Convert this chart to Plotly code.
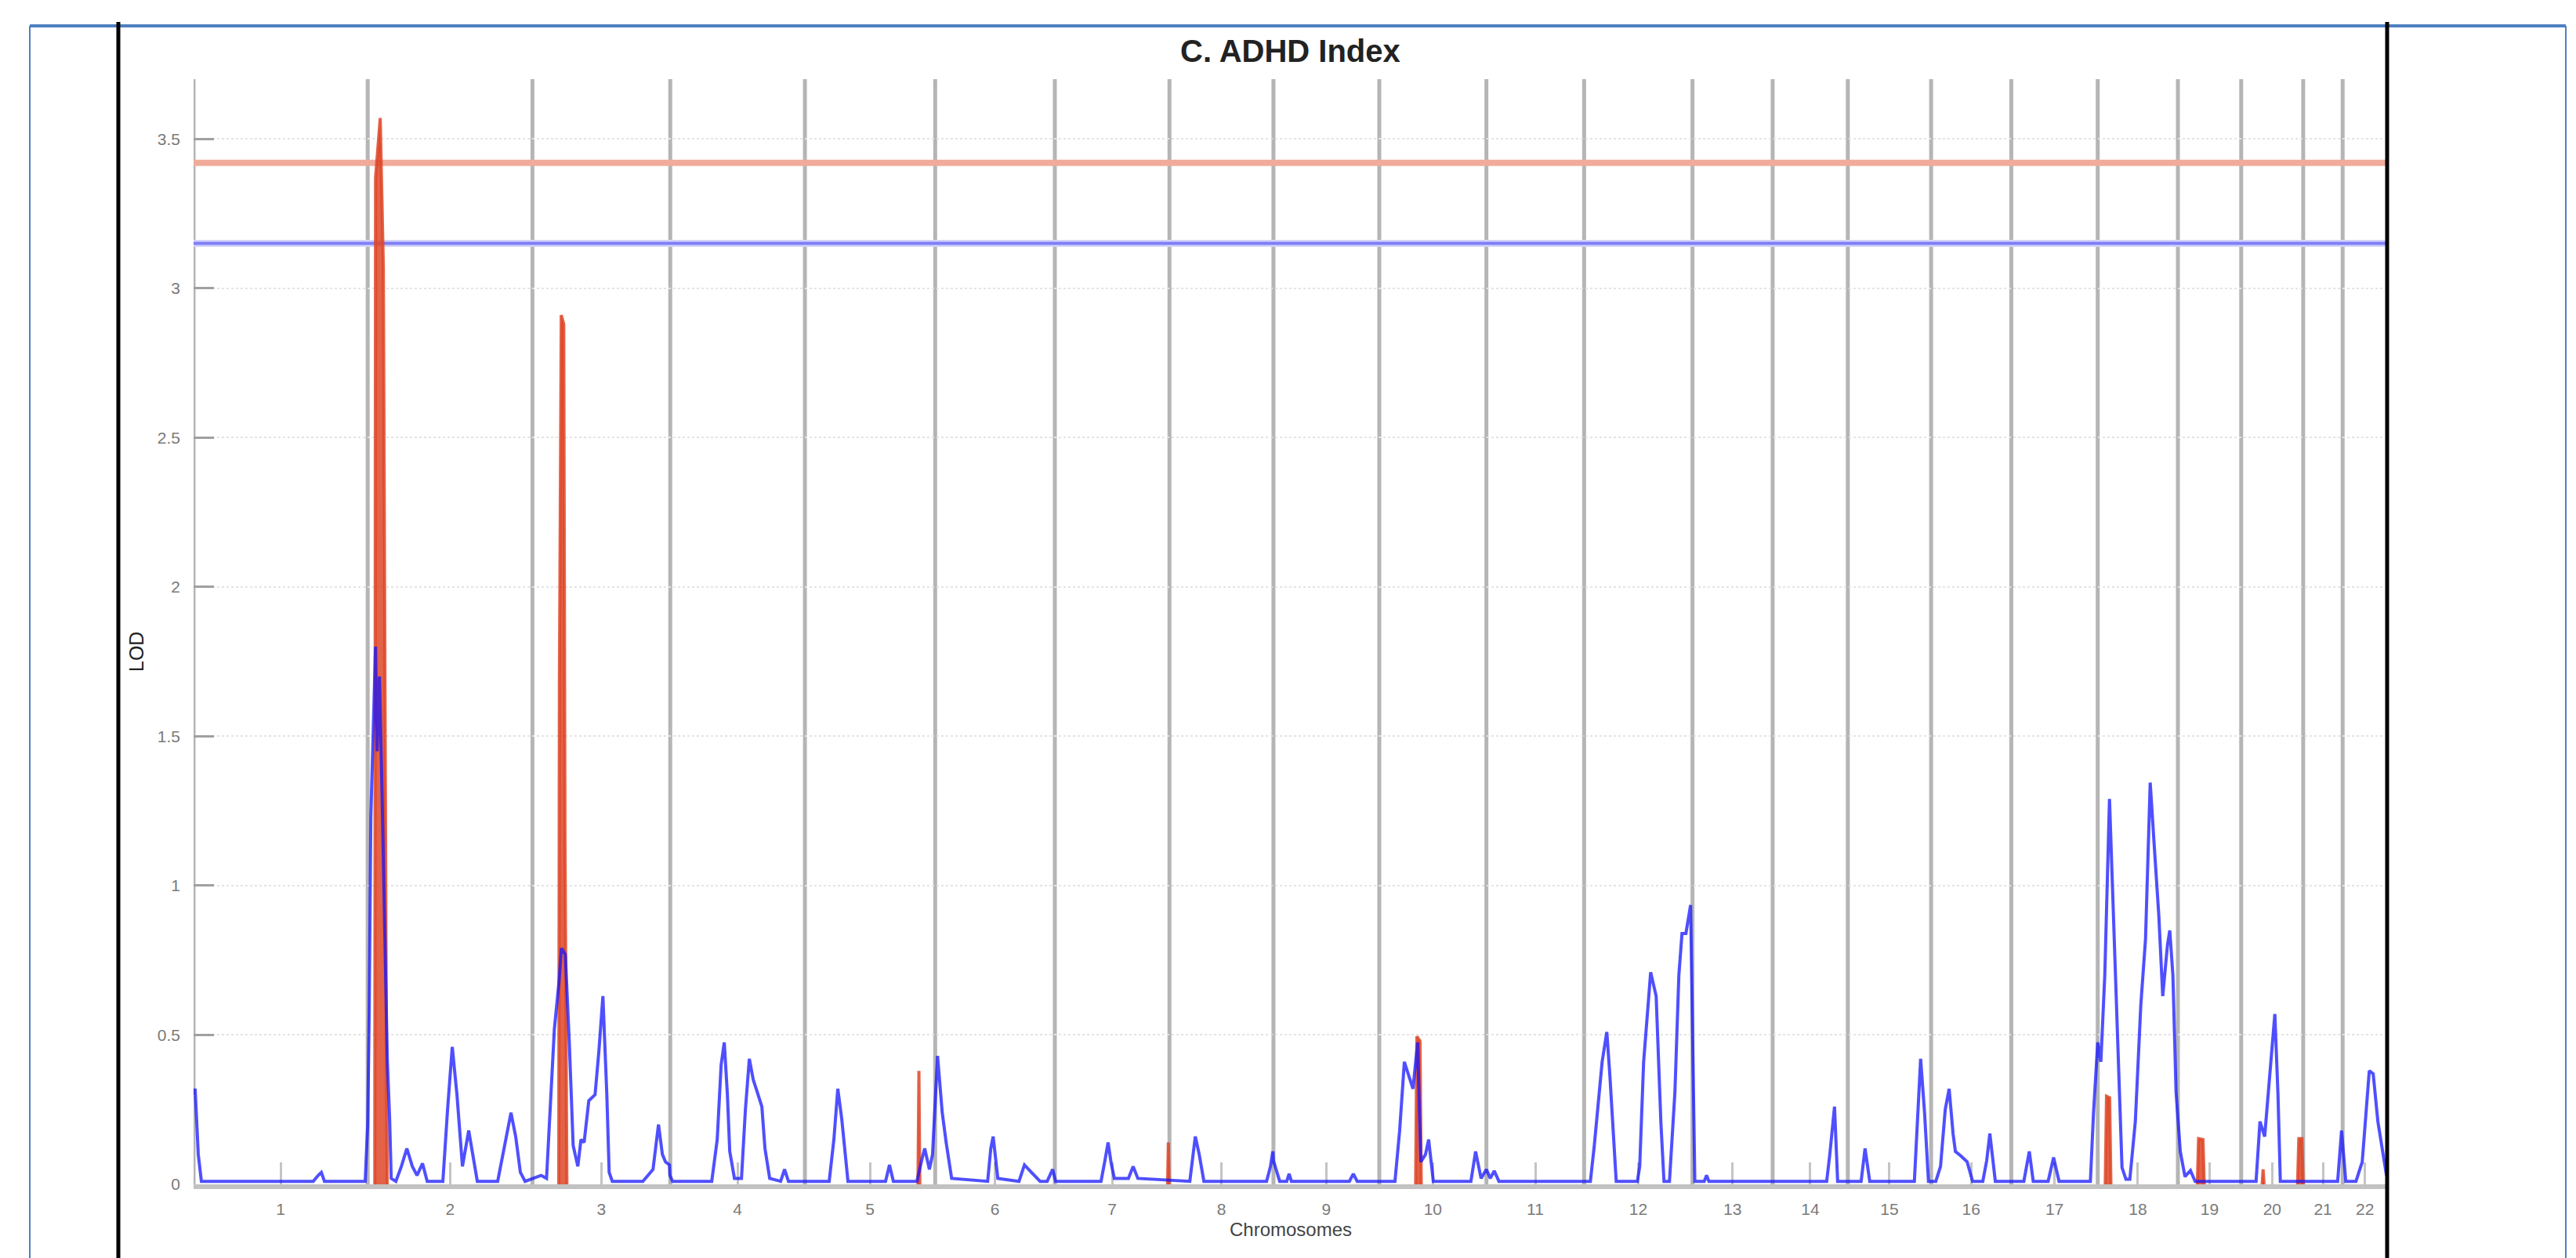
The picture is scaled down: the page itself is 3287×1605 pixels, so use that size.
import plotly.graph_objects as go

# ---------------- data ----------------
chrom_names = [str(i) for i in range(1, 23)]
chrom_len_cm = [278, 263, 220, 215, 208, 191, 183, 166, 169, 171, 156,
                173, 128, 120, 133, 128, 138, 128, 101, 99, 63, 71]

# blue LOD curve: chromosome, position within chromosome (cM), LOD
blue_chrom = ([1] * 10 + [2] * 33 + [3] * 27 + [4] * 19 + [5] * 15 + [6] * 14 +
              [7] * 9 + [8] * 9 + [9] * 8 + [10] * 13 + [11] * 4 + [12] * 20 +
              [13] * 5 + [14] * 4 + [15] * 8 + [16] * 13 + [17] * 8 + [18] * 20 +
              [19] * 4 + [20] * 7 + [21] * 2 + [22] * 7)
blue_pos = [
    # chr1
    0, 2.5, 7.5, 12.5, 66, 191, 199, 204, 209, 274,
    # chr2
    0, 2.5, 5, 8.75, 12.5, 15, 18.75, 22.5, 26.25, 31.25, 35, 37.5, 45, 53.75,
    62.5, 71.25, 78.75, 87.5, 95, 120, 127.5, 135, 142.5, 151.25, 161.25,
    168.75, 175, 207.5, 220, 228.75, 236.25, 243.75, 251.25,
    # chr3
    1.25, 13.75, 22.5, 28.75, 35, 42.5, 46.25, 52.5, 58.75, 65, 72.5, 77.5,
    82.5, 90, 100, 106.25, 112.5, 118.75, 122.5, 127.5, 176.25, 192.5, 201.25,
    207.5, 212.5, 218.75, 219.5,
    # chr4
    3.75, 66.25, 75, 81.25, 86.25, 91.25, 95, 102.5, 113.75, 120, 126.25,
    132.5, 138.75, 146.25, 151.25, 158.75, 176.25, 182.5, 188.75,
    # chr5
    3.75, 38.75, 46.25, 52.5, 58.75, 63.75, 68.75, 128.75, 135, 141.25,
    178.75, 187.5, 191.25, 198.75, 203.75,
    # chr6
    3.75, 11.25, 17.5, 26.25, 83.75, 88.75, 92.5, 100, 133.75, 142.5, 153.75,
    167.5, 178.75, 187.5,
    # chr7
    1.25, 73.75, 80, 85, 90, 95, 117.5, 125, 132.5,
    # chr8
    32.5, 41.25, 47.5, 55, 155, 161.25, 165, 165.5, 165.9,
    # chr9
    5, 10, 21.25, 25, 28.75, 121.25, 127.5, 133.75,
    # chr10
    25, 32.5, 40, 47.5, 53.75, 61.25, 66.25, 73.75, 78.75, 86.25, 146.25,
    153.75, 162.5,
    # chr11
    0, 6.25, 12.5, 20,
    # chr12
    10, 16.25, 28.75, 36.25, 41.25, 47.5, 51.25, 85, 88.75, 95, 106.25, 115,
    122.5, 127.5, 136.25, 145, 151.25, 156.25, 162.5, 170,
    # chr13
    0, 3.75, 18.75, 22.5, 26.25,
    # chr14
    86.25, 91.25, 98.75, 103.75,
    # chr15
    21.25, 27.5, 35, 106.25, 111.25, 116.25, 122.5, 128.75,
    # chr16
    7.5, 15, 22.5, 28.75, 35, 38.75, 47.5, 57.5, 66.25, 82.5, 88.75, 93.75, 102.5,
    # chr17
    20, 28.75, 35, 58.75, 67.5, 76.25, 126.25, 131.25,
    # chr18
    0, 5, 11.25, 18.75, 25, 32.5, 38.75, 45, 51.25, 60, 68.75, 76.25, 83.75,
    90, 97.5, 103.75, 111.25, 115, 120, 125,
    # chr19
    3.75, 11.25, 20, 27.5,
    # chr20
    23.75, 30, 37.5, 45, 53.75, 58.75, 62.5,
    # chr21
    55, 61.25,
    # chr22
    5, 21.25, 31.25, 42.5, 48.75, 56.25, 70,
]
blue_lod = [
    # chr1
    0.30, 0.32, 0.10, 0.01, 0.01, 0.01, 0.03, 0.04, 0.01, 0.01,
    # chr2
    0.20, 0.60, 1.23, 1.48, 1.80, 1.45, 1.70, 1.35, 1.00, 0.42, 0.22, 0.02,
    0.01, 0.06, 0.12, 0.06, 0.03, 0.07, 0.01, 0.01, 0.25, 0.46, 0.30, 0.06,
    0.18, 0.08, 0.01, 0.01, 0.15, 0.24, 0.16, 0.04, 0.01,
    # chr3
    0.02, 0.03, 0.02, 0.25, 0.52, 0.68, 0.79, 0.77, 0.48, 0.13, 0.06, 0.15,
    0.14, 0.28, 0.30, 0.45, 0.63, 0.30, 0.04, 0.01, 0.01, 0.05, 0.20, 0.10,
    0.075, 0.065, 0.03,
    # chr4
    0.01, 0.01, 0.15, 0.40, 0.475, 0.30, 0.11, 0.02, 0.02, 0.25, 0.42, 0.35,
    0.31, 0.26, 0.12, 0.02, 0.01, 0.05, 0.01,
    # chr5
    0.01, 0.01, 0.15, 0.32, 0.22, 0.12, 0.01, 0.01, 0.065, 0.01, 0.01, 0.09,
    0.12, 0.05, 0.10,
    # chr6
    0.43, 0.24, 0.14, 0.02, 0.01, 0.12, 0.16, 0.02, 0.01, 0.065, 0.04, 0.01,
    0.01, 0.05,
    # chr7
    0.01, 0.01, 0.08, 0.14, 0.07, 0.02, 0.02, 0.06, 0.02,
    # chr8
    0.01, 0.16, 0.10, 0.01, 0.01, 0.06, 0.11, 0.10, 0.08,
    # chr9
    0.04, 0.01, 0.01, 0.035, 0.01, 0.01, 0.035, 0.01,
    # chr10
    0.01, 0.18, 0.41, 0.36, 0.32, 0.475, 0.075, 0.10, 0.15, 0.01, 0.01, 0.11, 0.02,
    # chr11
    0.05, 0.02, 0.045, 0.01,
    # chr12
    0.01, 0.13, 0.41, 0.51, 0.36, 0.11, 0.01, 0.01, 0.06, 0.41, 0.71, 0.63,
    0.21, 0.01, 0.01, 0.31, 0.70, 0.84, 0.84, 0.935,
    # chr13
    0.46, 0.01, 0.01, 0.03, 0.01,
    # chr14
    0.01, 0.10, 0.26, 0.01,
    # chr15
    0.01, 0.12, 0.01, 0.01, 0.20, 0.42, 0.24, 0.01,
    # chr16
    0.01, 0.06, 0.25, 0.32, 0.17, 0.11, 0.095, 0.075, 0.01, 0.01, 0.08, 0.17, 0.01,
    # chr17
    0.01, 0.11, 0.01, 0.01, 0.09, 0.01, 0.01, 0.24,
    # chr18
    0.475, 0.41, 0.70, 1.29, 0.90, 0.41, 0.056, 0.017, 0.017, 0.21, 0.60,
    0.82, 1.345, 1.14, 0.90, 0.63, 0.80, 0.85, 0.70, 0.31,
    # chr19
    0.11, 0.026, 0.046, 0.01,
    # chr20
    0.01, 0.21, 0.16, 0.35, 0.57, 0.30, 0.01,
    # chr21
    0.01, 0.18,
    # chr22
    0.01, 0.01, 0.075, 0.38, 0.37, 0.21, 0.03,
]

# red LOD spikes: spike id, chromosome, position (cM), LOD
red_spike = [1] * 6 + [2] * 7 + [3] * 3 + [4] * 3 + [5] * 4 + [6] * 4 + [7] * 4 + [8] * 3 + [9] * 4
red_chrom = [2] * 6 + [3] * 7 + [5] * 3 + [7] * 3 + [10] * 4 + [18] * 4 + [19] * 4 + [20] * 3 + [20] * 4
red_pos = [11.25, 12.5, 20, 25, 30, 31.25,
           42, 43, 46, 50, 52, 54, 55,
           180.5, 182, 183.5,
           180, 181.25, 182.5,
           58, 60, 65, 67,
           12, 14, 19, 21,
           31, 33, 40, 42,
           33.5, 35, 36.5,
           90, 92, 97, 99]
red_lod = [0, 3.37, 3.57, 3.07, 0.38, 0,
           0, 1.67, 2.91, 2.88, 1.15, 0.28, 0,
           0, 0.38, 0,
           0, 0.14, 0,
           0, 0.495, 0.48, 0,
           0, 0.295, 0.29, 0,
           0, 0.153, 0.15, 0,
           0, 0.05, 0,
           0, 0.153, 0.153, 0]

threshold_red = 3.42
threshold_blue = 3.15
y_ticks = [0, 0.5, 1, 1.5, 2, 2.5, 3, 3.5]
y_tick_text = ["0", "0.5", "1", "1.5", "2", "2.5", "3", "3.5"]
y_max = 3.7

# ---------------- derived positions ----------------
offsets = []
acc = 0
for L in chrom_len_cm:
    offsets.append(acc)
    acc += L
genome_len = acc
mids = [o + L / 2 for o, L in zip(offsets, chrom_len_cm)]

bx = [offsets[c - 1] + p for c, p in zip(blue_chrom, blue_pos)]

rx, ry = [], []
prev = None
for sid, c, p, v in zip(red_spike, red_chrom, red_pos, red_lod):
    if prev is not None and sid != prev:
        rx.append(None)
        ry.append(None)
    rx.append(offsets[c - 1] + p)
    ry.append(v)
    prev = sid

FONT = "Liberation Sans, Arial, sans-serif"

# plot area geometry in page pixels (used only for page decorations / text placement)
PL, PR, PT, PB = 247, 3046, 101, 1511
PW, PH = PR - PL, PB - PT


def px(xp):
    return (xp - PL) / PW


def py(yp):
    return (PB - yp) / PH


fig = go.Figure()

# thresholds
fig.add_trace(go.Scatter(x=[0, genome_len], y=[threshold_red, threshold_red], mode="lines",
                         line=dict(color="#f1ab9b", width=8), hoverinfo="skip", showlegend=False))
fig.add_trace(go.Scatter(x=[0, genome_len], y=[threshold_blue, threshold_blue], mode="lines",
                         line=dict(color="#d4d4fb", width=9), hoverinfo="skip", showlegend=False))
fig.add_trace(go.Scatter(x=[0, genome_len], y=[threshold_blue, threshold_blue], mode="lines",
                         line=dict(color="#7f7ff6", width=4), hoverinfo="skip", showlegend=False))

# red spikes (filled), drawn under the blue curve
fig.add_trace(go.Scatter(x=rx, y=ry, mode="lines", connectgaps=False,
                         fill="toself", fillcolor="rgba(222,70,40,0.85)",
                         line=dict(color="rgba(222,70,40,0.85)", width=4),
                         hoverinfo="skip", showlegend=False))
# blue curve
fig.add_trace(go.Scatter(x=bx, y=blue_lod, mode="lines",
                         line=dict(color="rgba(20,20,255,0.75)", width=4),
                         hoverinfo="skip", showlegend=False))

shapes = []
# chromosome boundary lines
for b in offsets:
    shapes.append(dict(type="line", xref="x", yref="y", x0=b, x1=b, y0=0, y1=y_max,
                       line=dict(color="#b5b5b5", width=5), layer="below"))

# page decorations (scan frame)
shapes.append(dict(type="line", xref="paper", yref="paper",
                   x0=px(38), x1=px(3274), y0=py(33), y1=py(33),
                   line=dict(color="#4f7fc0", width=4)))
for xb in (38, 3274):
    shapes.append(dict(type="line", xref="paper", yref="paper",
                       x0=px(xb), x1=px(xb), y0=py(1610), y1=py(33),
                       line=dict(color="#4f7fc0", width=2)))
for xb in (151, 3046):
    shapes.append(dict(type="line", xref="paper", yref="paper",
                       x0=px(xb), x1=px(xb), y0=py(1610), y1=py(28),
                       line=dict(color="#000000", width=5)))

annotations = [
    dict(text="<b>C. ADHD Index</b>", xref="paper", yref="paper", x=0.5, y=py(65),
         xanchor="center", yanchor="middle", showarrow=False,
         font=dict(family=FONT, size=40, color="#222222")),
    dict(text="Chromosomes", xref="paper", yref="paper", x=0.5, y=py(1568),
         xanchor="center", yanchor="middle", showarrow=False,
         font=dict(family=FONT, size=24, color="#444444")),
    dict(text="LOD", xref="paper", yref="paper", x=px(174), y=py(832),
         xanchor="center", yanchor="middle", showarrow=False, textangle=-90,
         font=dict(family=FONT, size=25, color="#222222")),
]

fig.update_layout(
    width=3287, height=1605,
    margin=dict(l=PL, r=3287 - PR, t=PT, b=1605 - PB, autoexpand=False),
    paper_bgcolor="white", plot_bgcolor="white",
    shapes=shapes, annotations=annotations,
    xaxis=dict(range=[0, genome_len], tickmode="array", tickvals=mids, ticktext=chrom_names,
               ticks="inside", ticklen=28, tickwidth=3, tickcolor="#c4c4c4",
               showgrid=False, zeroline=False, showline=True, linecolor="#c2c2c2",
               linewidth=6, layer="below traces", ticklabelstandoff=8,
               tickfont=dict(family=FONT, size=21, color="#7a7a7a")),
    yaxis=dict(range=[0, y_max], tickmode="array", tickvals=y_ticks, ticktext=y_tick_text,
               ticks="inside", ticklen=26, tickwidth=3, tickcolor="#a0a0a0",
               showgrid=True, gridcolor="#e4e4e4", gridwidth=2, griddash="dot",
               zeroline=False, showline=False, ticklabelstandoff=16,
               tickfont=dict(family=FONT, size=21, color="#7a7a7a")),
)

fig.write_html("out.html",
               config=dict(displayModeBar=False),
               post_script="document.body.style.margin='0px';"
                           "document.documentElement.style.overflow='hidden';")
